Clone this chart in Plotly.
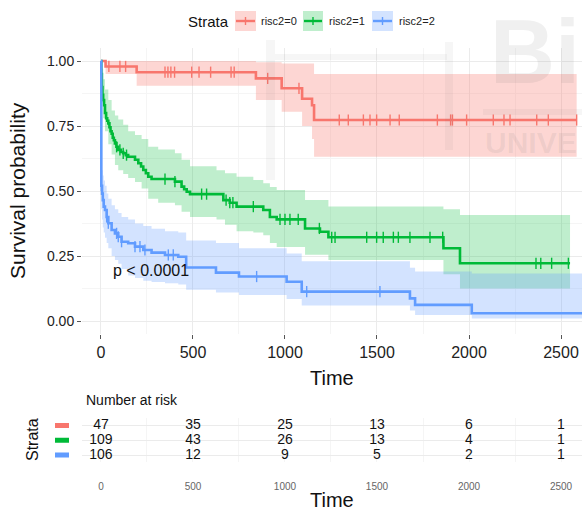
import numpy as np
import plotly.graph_objects as go

# ---- styling ----
RED, GREEN, BLUE = "#F8766D", "#00BA38", "#619CFF"
RED_F, GREEN_F, BLUE_F = "rgba(248,118,109,0.30)", "rgba(0,186,56,0.25)", "rgba(97,156,255,0.28)"
SANS = "Liberation Sans, Arial, sans-serif"
MARK = "rgba(110,110,110,0.10)"
W, H = 582, 513
L_MARGIN = 82

# ---- data ----
strata = ["risc2=0", "risc2=1", "risc2=2"]

# risc2=0
time0 = [0, 25, 194, 842, 982, 1093, 1147, 1158, 2585]
surv0 = [1.0, 0.979, 0.957, 0.933, 0.895, 0.855, 0.83, 0.773, 0.773]
lower0 = [1.0, 0.95, 0.905, 0.85, 0.805, 0.75, 0.70, 0.632, 0.632]
upper0 = [1.0, 1.0, 1.0, 0.995, 0.99, 0.99, 0.99, 0.95, 0.95]
cens0 = [43, 103, 134, 348, 364, 380, 400, 493, 533, 596, 707, 724, 906, 1076,
         1295, 1344, 1426, 1462, 1498, 1571, 1621, 1828, 1900, 1910, 1987, 2132,
         2190, 2223, 2368, 2431, 2585]

# risc2=1
time1 = [0, 2, 5, 8, 12, 17, 22, 28, 34, 40, 46, 52, 58, 64, 70, 76, 84, 94, 108,
         121, 135, 148, 185, 203, 218, 230, 244, 257, 275, 402, 438, 452, 466, 484,
         665, 700, 737, 882, 918, 955, 1109, 1190, 1236, 1861, 1951, 2549]
surv1 = [1.0, 0.95, 0.90, 0.87, 0.85, 0.83, 0.80, 0.78, 0.77, 0.76, 0.745, 0.73,
         0.72, 0.705, 0.695, 0.683, 0.67, 0.658, 0.65, 0.645, 0.638, 0.632, 0.62,
         0.607, 0.594, 0.581, 0.568, 0.555, 0.546, 0.536, 0.517, 0.507, 0.497,
         0.488, 0.465, 0.455, 0.44, 0.427, 0.40, 0.391, 0.356, 0.343, 0.322, 0.28,
         0.222, 0.222]
ci_time1 = [0, 2, 5, 12, 22, 40, 58, 76, 94, 121, 148, 185, 221, 257, 311, 402,
            438, 484, 628, 674, 737, 828, 882, 918, 955, 1109, 1236, 1861, 1951, 2549]
lower1 = [1.0, 0.90, 0.84, 0.78, 0.73, 0.68, 0.64, 0.60, 0.58, 0.565, 0.55, 0.535,
          0.51, 0.47, 0.455, 0.445, 0.42, 0.40, 0.39, 0.37, 0.345, 0.34, 0.33,
          0.30, 0.285, 0.255, 0.235, 0.18, 0.125, 0.125]
upper1 = [1.0, 1.0, 0.97, 0.93, 0.89, 0.85, 0.81, 0.79, 0.775, 0.755, 0.73, 0.715,
          0.70, 0.67, 0.66, 0.645, 0.62, 0.595, 0.58, 0.568, 0.555, 0.542, 0.53,
          0.515, 0.504, 0.465, 0.44, 0.43, 0.408, 0.408]
cens1 = [85, 103, 121, 139, 348, 402, 547, 574, 680, 700, 717, 828, 973, 1000,
         1027, 1072, 1187, 1254, 1272, 1444, 1498, 1534, 1589, 1616, 1679, 1788,
         1857, 2364, 2390, 2449, 2540]

# risc2=2
time2 = [0, 2, 6, 10, 15, 22, 31, 40, 58, 76, 94, 112, 148, 185, 230, 275, 348,
         420, 463, 625, 750, 1009, 1091, 1679, 1707, 2015, 2650]
surv2 = [1.0, 0.52, 0.49, 0.465, 0.44, 0.427, 0.40, 0.376, 0.35, 0.337, 0.324,
         0.305, 0.299, 0.286, 0.273, 0.263, 0.254, 0.247, 0.206, 0.186, 0.171,
         0.151, 0.113, 0.087, 0.062, 0.03, 0.03]
lower2 = [1.0, 0.43, 0.39, 0.36, 0.34, 0.32, 0.30, 0.28, 0.25, 0.235, 0.22, 0.20,
          0.175, 0.165, 0.155, 0.15, 0.145, 0.14, 0.12, 0.11, 0.10, 0.085, 0.06,
          0.04, 0.023, 0.01, 0.01]
upper2 = [1.0, 0.62, 0.58, 0.56, 0.54, 0.52, 0.49, 0.47, 0.445, 0.43, 0.415, 0.40,
          0.39, 0.375, 0.365, 0.355, 0.345, 0.34, 0.31, 0.30, 0.28, 0.26, 0.23,
          0.205, 0.19, 0.183, 0.183]
cens2 = [2, 31, 40, 85, 94, 112, 185, 212, 239, 366, 393, 846, 1118, 1516]

# number at risk
risk_times = [0, 500, 1000, 1500, 2000, 2500]
risk0 = [47, 35, 25, 13, 6, 1]
risk1 = [109, 43, 26, 13, 4, 1]
risk2 = [106, 12, 9, 5, 2, 1]

x_ticks = [0, 500, 1000, 1500, 2000, 2500]
y_ticks = [0, 0.25, 0.5, 0.75, 1.0]
y_tick_text = ["0.00", "0.25", "0.50", "0.75", "1.00"]
p_label = "p < 0.0001"


def px_x(px):
    return (px - L_MARGIN) / (W - L_MARGIN)


def px_y(py):
    return 1 - py / H


def step_value(times, values, at):
    idx = np.searchsorted(np.asarray(times), np.asarray(at), side="right") - 1
    return np.asarray(values)[idx]


fig = go.Figure()

groups = [
    (time0, surv0, time0, lower0, upper0, cens0, RED, RED_F),
    (time1, surv1, ci_time1, lower1, upper1, cens1, GREEN, GREEN_F),
    (time2, surv2, time2, lower2, upper2, cens2, BLUE, BLUE_F),
]

# confidence bands
for t, s, ct, lo, hi, c, col, fcol in groups:
    fig.add_trace(go.Scatter(x=ct, y=lo, mode="lines", line=dict(width=0, shape="hv"),
                             showlegend=False, hoverinfo="skip"))
    fig.add_trace(go.Scatter(x=ct, y=hi, mode="lines", line=dict(width=0, shape="hv"),
                             fill="tonexty", fillcolor=fcol, showlegend=False,
                             hoverinfo="skip"))

# survival curves and censor marks
for t, s, ct, lo, hi, c, col, fcol in groups:
    fig.add_trace(go.Scatter(x=t, y=s, mode="lines", line=dict(color=col, width=2.6, shape="hv"),
                             showlegend=False))
    fig.add_trace(go.Scatter(x=c, y=step_value(t, s, c), mode="markers",
                             marker=dict(symbol="line-ns", size=8,
                                         line=dict(color=col, width=1.4)),
                             showlegend=False))

# number-at-risk table
for row, counts, col in [(3, risk0, RED), (2, risk1, GREEN), (1, risk2, BLUE)]:
    fig.add_trace(go.Scatter(x=risk_times, y=[row] * len(risk_times), mode="text",
                             text=[str(v) for v in counts],
                             textfont=dict(family=SANS, size=14, color="#111"),
                             xaxis="x2", yaxis="y2", showlegend=False))

grid_major = "#EBEBEB"
grid_minor = "#F5F5F5"

main_dom = [px_y(334), px_y(48)]
risk_dom = [px_y(462.4), px_y(418.1)]

fig.update_layout(
    width=W, height=H, autosize=False,
    margin=dict(l=L_MARGIN, r=0, t=0, b=0),
    paper_bgcolor="white", plot_bgcolor="white",
    xaxis=dict(range=[-103, 2614], domain=[0, 1], anchor="y",
               tickvals=x_ticks, ticks="outside", ticklen=4, tickcolor="#555",
               tickfont=dict(family=SANS, size=16, color="#222"),
               showgrid=True, gridcolor=grid_major, zeroline=False, showline=False,
               minor=dict(dtick=250, tick0=0, showgrid=True, gridcolor=grid_minor)),
    yaxis=dict(range=[-0.05, 1.05], domain=main_dom, anchor="x",
               tickvals=y_ticks, ticktext=y_tick_text, ticks="outside", ticklen=4,
               tickcolor="#555", tickfont=dict(family=SANS, size=14, color="#222"),
               showgrid=True, gridcolor=grid_major, zeroline=False, showline=False,
               minor=dict(dtick=0.125, tick0=0, showgrid=True, gridcolor=grid_minor)),
    xaxis2=dict(range=[-103, 2614], domain=[0, 1], anchor="y2",
                tickvals=x_ticks, ticks="outside", ticklen=15, tickcolor="rgba(0,0,0,0)",
                tickfont=dict(family=SANS, size=10, color="#666"),
                showgrid=True, gridcolor=grid_minor, zeroline=False, showline=False,
                minor=dict(dtick=250, tick0=250, showgrid=True, gridcolor=grid_minor)),
    yaxis2=dict(range=[0.5, 3.5], domain=risk_dom, anchor="x2",
                tickvals=[1, 2, 3], showticklabels=False, ticks="",
                showgrid=True, gridcolor=grid_major, zeroline=False, showline=False),
)

annotations = []
shapes = []

# faint background logo in the upper right
annotations.append(dict(text="<b>Bi</b>", x=px_x(488), y=px_y(52), xref="paper", yref="paper",
                        xanchor="left", yanchor="middle", showarrow=False,
                        font=dict(family=SANS, size=90, color=MARK)))
annotations.append(dict(text="<b>UNIVE</b>", x=px_x(483), y=px_y(143), xref="paper",
                        yref="paper", xanchor="left", yanchor="middle", showarrow=False,
                        font=dict(family=SANS, size=30, color=MARK)))
for x0, x1, y0, y1 in [(483, 582, 109, 115), (266, 275, 40, 180), (445, 453, 42, 150),
                       (275, 447, 54, 60)]:
    shapes.append(dict(type="rect", xref="paper", yref="paper",
                       x0=px_x(x0), x1=px_x(x1), y0=px_y(y1), y1=px_y(y0),
                       fillcolor="rgba(110,110,110,0.06)", line=dict(width=0)))

# legend row
annotations.append(dict(text="Strata", x=px_x(186), y=px_y(21), xref="paper", yref="paper",
                        xanchor="left", yanchor="middle", showarrow=False,
                        font=dict(family=SANS, size=15, color="#111")))
legend_boxes = [(235, 256, 259), (303, 323, 327), (372, 393, 397)]
for (b0, b1, tx), name, col, fcol in zip(legend_boxes, strata, [RED, GREEN, BLUE],
                                         [RED_F, GREEN_F, BLUE_F]):
    shapes.append(dict(type="rect", xref="paper", yref="paper",
                       x0=px_x(b0), x1=px_x(b1), y0=px_y(11), y1=px_y(31),
                       fillcolor=fcol, line=dict(width=0), layer="below"))
    shapes.append(dict(type="line", xref="paper", yref="paper",
                       x0=px_x(b0 + 1), x1=px_x(b1 - 1), y0=px_y(21), y1=px_y(21),
                       line=dict(color=col, width=2.4)))
    cx = (b0 + b1) / 2
    shapes.append(dict(type="line", xref="paper", yref="paper",
                       x0=px_x(cx), x1=px_x(cx), y0=px_y(17), y1=px_y(25),
                       line=dict(color=col, width=1.4)))
    annotations.append(dict(text=name, x=px_x(tx), y=px_y(21), xref="paper", yref="paper",
                            xanchor="left", yanchor="middle", showarrow=False,
                            font=dict(family=SANS, size=11, color="#222")))

# axis titles
annotations.append(dict(text="Survival probability", x=px_x(18), y=px_y(191),
                        xref="paper", yref="paper", textangle=-90, showarrow=False,
                        xanchor="center", yanchor="middle",
                        font=dict(family=SANS, size=21, color="#111")))
annotations.append(dict(text="Time", x=0.5, y=px_y(378), xref="paper", yref="paper",
                        showarrow=False, xanchor="center", yanchor="middle",
                        font=dict(family=SANS, size=20, color="#111")))
annotations.append(dict(text=p_label, x=55, y=0.196, xref="x", yref="y", showarrow=False,
                        xanchor="left", yanchor="middle",
                        font=dict(family=SANS, size=16, color="#111")))

# risk table labels
annotations.append(dict(text="Number at risk", x=px_x(84), y=px_y(400), xref="paper",
                        yref="paper", xanchor="left", yanchor="middle", showarrow=False,
                        font=dict(family=SANS, size=14, color="#111")))
annotations.append(dict(text="Strata", x=px_x(32), y=px_y(440), xref="paper", yref="paper",
                        textangle=-90, showarrow=False, xanchor="center", yanchor="middle",
                        font=dict(family=SANS, size=16, color="#111")))
annotations.append(dict(text="Time", x=0.5, y=px_y(500), xref="paper", yref="paper",
                        showarrow=False, xanchor="center", yanchor="middle",
                        font=dict(family=SANS, size=20, color="#111")))
for row, col in [(3, RED), (2, GREEN), (1, BLUE)]:
    shapes.append(dict(type="rect", xref="paper", yref="y2",
                       x0=px_x(55), x1=px_x(69), y0=row - 0.17, y1=row + 0.17,
                       fillcolor=col, line=dict(width=0)))

fig.update_layout(annotations=annotations, shapes=shapes)
fig.write_html("out.html")
